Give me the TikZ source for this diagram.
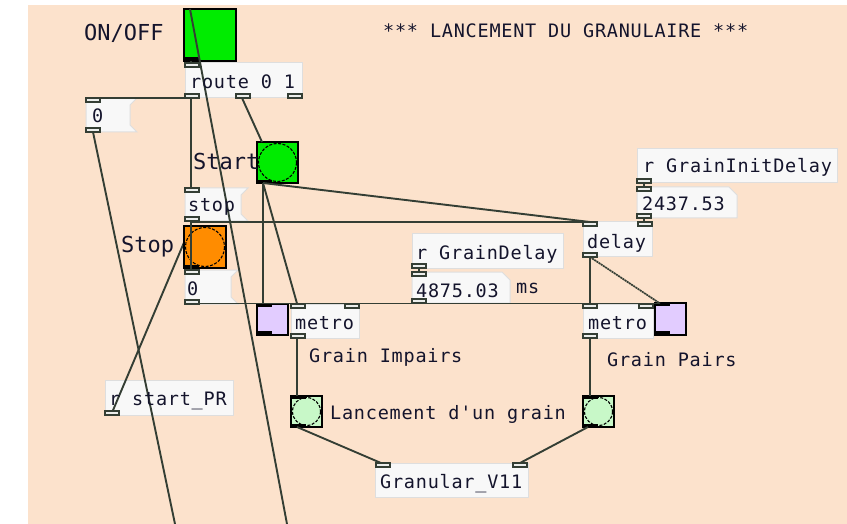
\documentclass[tikz,border=0pt]{standalone}
\usepackage{fontspec}
\newfontfamily\pdfont[LetterSpace=4.1]{DejaVu Sans Mono}
\newfontfamily\pdlabel{DejaVu Sans Mono}
\definecolor{canvas}{RGB}{252,226,204}
\definecolor{boxfill}{RGB}{248,248,248}
\definecolor{boxline}{RGB}{222,222,222}
\definecolor{wirecol}{RGB}{52,62,52}
\definecolor{iofill}{RGB}{236,238,236}
\definecolor{textcol}{RGB}{20,20,44}
\definecolor{pdgreen}{RGB}{0,236,0}
\definecolor{pdorange}{RGB}{255,140,0}
\definecolor{pdlilac}{RGB}{226,204,255}
\definecolor{pdpale}{RGB}{200,248,200}

\tikzset{
  wire/.style={draw=wirecol, line width=1.9pt},
  objbox/.style={fill=boxfill, draw=boxline, line width=1pt},
  iobox/.style={fill=iofill, draw=wirecol, line width=1.4pt},
  guibox/.style={draw=black, line width=1.8pt},
  guimark/.style={fill=black},
  bangring/.style={draw=black, line width=1.1pt, dash pattern=on 3pt off 1.5pt},
  pdtxt/.style={font=\pdfont\fontsize{18.5}{20}\selectfont, text=textcol, anchor=base west, inner sep=0pt},
  pdlbl/.style={font=\pdlabel\fontsize{22}{24}\selectfont, text=textcol, anchor=base west, inner sep=0pt}
}

% inlet / outlet tab, top-left corner given
\newcommand{\iotab}[2]{\path[iobox] (#1,#2) rectangle ++(14,4);}
% black tab of a GUI object
\newcommand{\guitab}[2]{\path[guimark] (#1,#2) rectangle ++(14,3);}

\begin{document}
\begin{tikzpicture}[x=1pt,y=-1pt]
\useasboundingbox (0,0) rectangle (847,524);
\fill[white] (0,0) rectangle (847,524);
\fill[canvas] (28,5) rectangle (847,524);

% ---------- object boxes ----------
\path[objbox] (185,63) rectangle (302,98);            % route 0 1
\path[objbox] (583,222) rectangle (652,257);          % delay
\path[objbox] (291,304) rectangle (359,338);          % metro (odd)
\path[objbox] (583,304) rectangle (653,338);          % metro (even)
\path[objbox] (637,149) rectangle (837,183);          % r GrainInitDelay
\path[objbox] (412,234) rectangle (563,268);          % r GrainDelay
\path[objbox] (105,380) rectangle (233,415);          % r start_PR
\path[objbox] (375,463) rectangle (528,497);          % Granular_V11
% message boxes
\path[objbox] (86,98) -- (137,98) -- (130,105) -- (130,125) -- (137,132) -- (86,132) -- cycle;
\path[objbox] (185,188) -- (248,188) -- (241,195) -- (241,214) -- (248,221) -- (185,221) -- cycle;
\path[objbox] (185,270) -- (238,270) -- (231,277) -- (231,297) -- (238,304) -- (185,304) -- cycle;
% number boxes
\path[objbox] (637,187) -- (729,187) -- (737,195) -- (737,218) -- (637,218) -- cycle;
\path[objbox] (412,272) -- (502,272) -- (510,280) -- (510,303) -- (412,303) -- cycle;

% ---------- connection points ----------
\coordinate (tgl-in) at (190,9);
\coordinate (tgl-out) at (191,61);
\coordinate (route-in) at (191,63);
\coordinate (route-o0) at (191,98);
\coordinate (route-o1) at (242,98);
\coordinate (zeroA-in) at (92,98);
\coordinate (zeroA-out) at (93,132);
\coordinate (stopmsg-in) at (191,188);
\coordinate (stopmsg-out) at (191,222);
\coordinate (zeroB-in) at (191,270);
\coordinate (zeroB-out) at (191,303.5);
\coordinate (startb-in) at (262,142);
\coordinate (startb-out) at (263,183);
\coordinate (stopb-in) at (191,226);
\coordinate (startpr-out) at (111,415);
\coordinate (delay-in0) at (590,222);
\coordinate (delay-in1) at (644,222);
\coordinate (delay-out) at (590,257);
\coordinate (gid-out) at (644,183);
\coordinate (nid-in) at (644,187);
\coordinate (nid-out) at (644,218);
\coordinate (gd-out) at (419,268);
\coordinate (nd-in) at (419,272);
\coordinate (nd-out) at (419,303.5);
\coordinate (metroL-in0) at (297,303.5);
\coordinate (metroL-in1) at (352,303.5);
\coordinate (metroL-out) at (297,338);
\coordinate (metroR-in0) at (590,303.5);
\coordinate (metroR-in1) at (645,303.5);
\coordinate (metroR-out) at (590,338);
\coordinate (lilacL-in) at (263,304);
\coordinate (lilacR-in) at (660,303.5);
\coordinate (paleL-in) at (297,396);
\coordinate (paleL-out) at (297,427);
\coordinate (paleR-in) at (590,396);
\coordinate (paleR-out) at (588,427);
\coordinate (gran-in0) at (381,463);
\coordinate (gran-in1) at (520,463);
\coordinate (below-a) at (287,524);
\coordinate (below-b) at (175,524);

% wire running underneath the Stop bang
\draw[wire] (startpr-out) -- (stopb-in);

% ---------- GUI objects ----------
% ON/OFF toggle
\path[fill=pdgreen, guibox] (184,9) rectangle (236,61);
\guitab{185}{57}
% Start bang
\path[fill=pdgreen, guibox] (257,142) rectangle (298,183);
\draw[bangring] (277.5,162.5) circle (19);
\guitab{258}{180}
% Stop bang
\path[fill=pdorange, guibox] (184,226) rectangle (226,268);
\draw[bangring] (205,247) circle (19.5);
\guitab{185}{265}
% lilac toggles
\path[fill=pdlilac, guibox] (257,304) rectangle (288,335);
\guitab{258}{304}\guitab{258}{331}
\path[fill=pdlilac, guibox] (655,303) rectangle (686,335);
\guitab{656}{303}\guitab{656}{331}
% pale green bangs
\path[fill=pdpale, guibox] (291,396) rectangle (322,427);
\draw[bangring] (306.5,411.5) circle (14);
\guitab{292}{396}\guitab{292}{424}
\path[fill=pdpale, guibox] (583,396) rectangle (614,427);
\draw[bangring] (598.5,411.5) circle (14);
\guitab{584}{396}\guitab{584}{424}

% ---------- connections ----------
\draw[wire] (below-a) -- (tgl-in);
\draw[wire] (tgl-out) -- (route-in);
\draw[wire] (route-o0) -- (zeroA-in);
\draw[wire] (route-o0) -- (stopmsg-in);
\draw[wire] (route-o1) -- (startb-in);
\draw[wire] (zeroA-out) -- (below-b);
\draw[wire] (startb-out) -- (delay-in0);
\draw[wire] (startb-out) -- (metroL-in0);
\draw[wire] (startb-out) -- (lilacL-in);
\draw[wire] (stopmsg-out) -- (delay-in0);
\draw[wire] (stopmsg-out) -- (zeroB-in);
\draw[wire] (zeroB-out) -- (metroL-in0);
\draw[wire] (zeroB-out) -- (metroR-in0);
\draw[wire] (zeroB-out) -- (lilacR-in);
\draw[wire] (nd-out) -- (metroL-in1);
\draw[wire] (nd-out) -- (metroR-in1);
\draw[wire] (gid-out) -- (nid-in);
\draw[wire] (nid-out) -- (delay-in1);
\draw[wire] (gd-out) -- (nd-in);
\draw[wire] (delay-out) -- (metroR-in0);
\draw[line width=1.7pt, draw=wirecol, dash pattern=on 2pt off 0.6pt] (delay-out) -- (lilacR-in);
\draw[wire] (metroL-out) -- (paleL-in);
\draw[wire] (metroR-out) -- (paleR-in);
\draw[wire] (paleL-out) -- (gran-in0);
\draw[wire] (paleR-out) -- (gran-in1);

% ---------- inlets / outlets ----------
\iotab{185}{63}\iotab{185}{94}\iotab{236}{94}\iotab{288}{94}   % route
\iotab{86}{98}\iotab{86}{128}                                  % 0
\iotab{185}{188}\iotab{185}{217}                               % stop
\iotab{185}{270}\iotab{185}{300}                               % 0
\iotab{583}{222}\iotab{638}{222}\iotab{583}{253}               % delay
\iotab{637}{179}                                               % r GrainInitDelay
\iotab{637}{187}\iotab{637}{214}                               % 2437.53
\iotab{412}{264}                                               % r GrainDelay
\iotab{412}{272}\iotab{412}{299}                               % 4875.03
\iotab{291}{304}\iotab{345}{304}\iotab{291}{334}               % metro
\iotab{583}{304}\iotab{639}{304}\iotab{583}{334}               % metro
\iotab{105}{411}                                               % r start_PR
\iotab{376}{463}\iotab{513}{463}                               % Granular_V11

% ---------- texts ----------
\node[pdlbl] (lbl-onoff) at (84,41) {ON/OFF};
\node[pdlbl] (lbl-start) at (193,170) {Start};
\node[pdlbl] (lbl-stop) at (121,253) {Stop};
\node[pdtxt] (title) at (383,38) {*** LANCEMENT DU GRANULAIRE ***};
\node[pdtxt] (t-route) at (190,89) {route 0 1};
\node[pdtxt] (t-zeroA) at (92,123) {0};
\node[pdtxt] (t-stop) at (188,212) {stop};
\node[pdtxt] (t-zeroB) at (187,295) {0};
\node[pdtxt] (t-metroL) at (295,329) {metro};
\node[pdtxt] (t-metroR) at (588,329) {metro};
\node[pdtxt] (t-impairs) at (309,362) {Grain Impairs};
\node[pdtxt] (t-pairs) at (607,366) {Grain Pairs};
\node[pdtxt] (t-startpr) at (109,405) {r start\_PR};
\node[pdtxt] (t-lance) at (330,419) {Lancement d{\char39}un grain};
\node[pdtxt] (t-gran) at (380,488) {Granular\_V11};
\node[pdtxt] (t-delay) at (587,248) {delay};
\node[pdtxt] (t-gid) at (643,173) {r GrainInitDelay};
\node[pdtxt] (t-nid) at (642,211) {2437.53};
\node[pdtxt] (t-gd) at (416,259) {r GrainDelay};
\node[pdtxt] (t-nd) at (416,297) {4875.03};
\node[pdtxt] (t-ms) at (516,293) {ms};
\end{tikzpicture}
\end{document}
